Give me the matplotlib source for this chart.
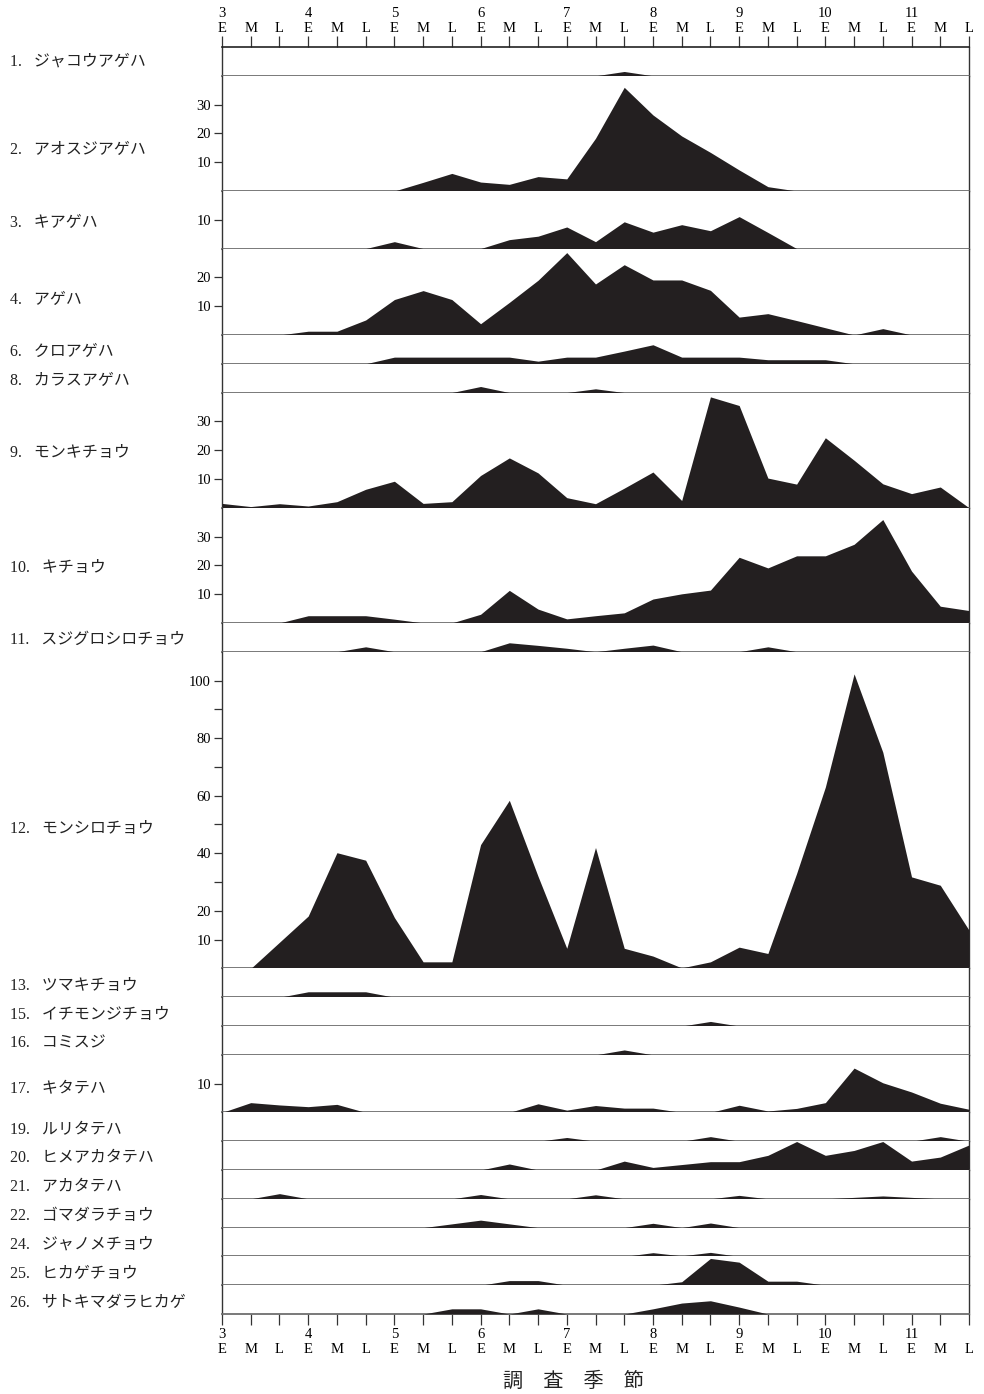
import math
import numpy as np
import matplotlib
matplotlib.use("Agg")
import matplotlib.pyplot as plt

# ===== Data (individuals per survey period) =====
months = ["3", "4", "5", "6", "7", "8", "9", "10", "11"]
periods = ["E", "M", "L"]

s01 = [0, 0, 0, 0, 0, 0, 0, 0, 0, 0, 0, 0, 0, 0, 1.5, 0, 0, 0, 0, 0, 0, 0, 0, 0, 0, 0, 0]
s02 = [0, 0, 0, 0, 0, 0, 0, 3, 6.1, 3.1, 2.3, 5.0, 4.2, 18.3, 36, 26.4, 19.1, 13.4, 7.3, 1.5, 0, 0, 0, 0, 0, 0, 0]
s03 = [0, 0, 0, 0, 0, 0, 2.4, 0, 0, 0, 3.1, 4.3, 7.5, 2.4, 9.3, 5.7, 8.3, 6.2, 11.1, 5.6, 0, 0, 0, 0, 0, 0, 0]
s04 = [0, 0, 0, 1.3, 1.3, 5.2, 12.3, 15.4, 12.3, 3.9, 11.3, 19.0, 28.6, 17.7, 24.4, 19.1, 19.1, 15.5, 6.2, 7.4, 5.0, 2.5, 0, 2.2, 0, 0, 0]
s06 = [0, 0, 0, 0, 0, 0, 2.3, 2.3, 2.3, 2.3, 2.3, 0.9, 2.3, 2.3, 4.4, 6.6, 2.3, 2.3, 2.3, 1.4, 1.4, 1.4, 0, 0, 0, 0, 0]
s08 = [0, 0, 0, 0, 0, 0, 0, 0, 0, 2.1, 0, 0, 0, 1.3, 0, 0, 0, 0, 0, 0, 0, 0, 0, 0, 0, 0, 0]
s09 = [1.5, 0.4, 1.4, 0.6, 2.1, 6.4, 9.2, 1.5, 2.1, 11.2, 17.3, 12.1, 3.5, 1.4, 6.8, 12.4, 2.5, 38.5, 35.5, 10.3, 8.2, 24.3, 16.5, 8.3, 4.9, 7.2, 0]
s10 = [0, 0, 0, 2.5, 2.5, 2.5, 1.3, 0, 0, 3.0, 11.3, 4.8, 1.4, 2.5, 3.5, 8.3, 10.1, 11.4, 22.8, 19.1, 23.3, 23.3, 27.3, 35.9, 18.0, 5.8, 4.3]
s11 = [0, 0, 0, 0, 0, 1.7, 0, 0, 0, 0, 3.1, 2.2, 1.2, 0, 1.2, 2.3, 0, 0, 0, 1.7, 0, 0, 0, 0, 0, 0, 0]
s12 = [0, 0, 9.1, 18.2, 40.2, 37.6, 17.7, 2.3, 2.3, 43.0, 58.4, 32, 7, 42, 7, 4.3, 0.2, 2.3, 7.4, 5.2, 33, 63, 102.3, 75.1, 31.8, 28.9, 13.3]
s13 = [0, 0, 0, 1.9, 1.9, 1.9, 0, 0, 0, 0, 0, 0, 0, 0, 0, 0, 0, 0, 0, 0, 0, 0, 0, 0, 0, 0, 0]
s15 = [0, 0, 0, 0, 0, 0, 0, 0, 0, 0, 0, 0, 0, 0, 0, 0, 0, 1.6, 0, 0, 0, 0, 0, 0, 0, 0, 0]
s16 = [0, 0, 0, 0, 0, 0, 0, 0, 0, 0, 0, 0, 0, 0, 1.7, 0, 0, 0, 0, 0, 0, 0, 0, 0, 0, 0, 0]
s17 = [0, 3.4, 2.6, 2.0, 2.8, 0, 0, 0, 0, 0, 0, 3.0, 0.8, 2.4, 1.5, 1.5, 0, 0, 2.5, 0.5, 1.4, 3.4, 15.4, 10.3, 7.1, 3.2, 1.1]
s19 = [0, 0, 0, 0, 0, 0, 0, 0, 0, 0, 0, 0, 1.3, 0, 0, 0, 0, 1.6, 0, 0, 0, 0, 0, 0, 0, 1.6, 0]
s20 = [0, 0, 0, 0, 0, 0, 0, 0, 0, 0, 2.1, 0, 0, 0, 3.1, 0.9, 1.9, 2.9, 2.9, 5.1, 9.9, 5.1, 6.8, 9.9, 3.1, 4.5, 8.7]
s21 = [0, 0, 1.8, 0, 0, 0, 0, 0, 0, 1.5, 0, 0, 0, 1.4, 0, 0, 0, 0, 1.2, 0, 0, 0, 0.5, 1.0, 0.5, 0, 0]
s22 = [0, 0, 0, 0, 0, 0, 0, 0, 1.3, 2.6, 1.3, 0, 0, 0, 0, 1.5, 0, 1.6, 0, 0, 0, 0, 0, 0, 0, 0, 0]
s24 = [0, 0, 0, 0, 0, 0, 0, 0, 0, 0, 0, 0, 0, 0, 0, 1.3, 0.2, 1.4, 0, 0, 0, 0, 0, 0, 0, 0, 0]
s25 = [0, 0, 0, 0, 0, 0, 0, 0, 0, 0, 1.6, 1.6, 0, 0, 0, 0, 1.2, 9.3, 8.0, 1.4, 1.4, 0, 0, 0, 0, 0, 0]
s26 = [0, 0, 0, 0, 0, 0, 0, 0, 1.8, 1.8, 0, 1.8, 0, 0, 0, 1.8, 3.8, 4.6, 2.4, 0, 0, 0, 0, 0, 0, 0, 0]

numbers = [1, 2, 3, 4, 6, 8, 9, 10, 11, 12, 13, 15, 16, 17, 19, 20, 21, 22, 24, 25, 26]
names = ["ジャコウアゲハ", "アオスジアゲハ", "キアゲハ", "アゲハ", "クロアゲハ", "カラスアゲハ",
         "モンキチョウ", "キチョウ", "スジグロシロチョウ", "モンシロチョウ", "ツマキチョウ",
         "イチモンジチョウ", "コミスジ", "キタテハ", "ルリタテハ", "ヒメアカタテハ",
         "アカタテハ", "ゴマダラチョウ", "ジャノメチョウ", "ヒカゲチョウ", "サトキマダラヒカゲ"]
series = [s01, s02, s03, s04, s06, s08, s09, s10, s11, s12, s13,
          s15, s16, s17, s19, s20, s21, s22, s24, s25, s26]

xlabels = [f"{m}\n{p}" if p == "E" else f"\n{p}" for m in months for p in periods]
x = np.arange(len(xlabels))

# ===== Layout (pixels) =====
W_PX, H_PX = 984, 1394
LEFT_PX, RIGHT_PX = 222, 969
TOP_PX, BOTTOM_PX = 47, 1314
FILL = "#231f20"
SERIF = "Liberation Serif"
LABEL_FONT = [SERIF, "Noto Sans CJK JP"]
label_shift = {1: -3, 2: 14, 12: 16, 4: 5, 17: 3}   # px nudge of the name labels

units = [max(1, math.ceil(max(s) / 10 - 1e-9)) for s in series]
unit_px = (BOTTOM_PX - TOP_PX) / sum(units)

fig = plt.figure(figsize=(W_PX / 100, H_PX / 100), dpi=100)
fig.patch.set_facecolor("white")

top = TOP_PX
n = len(series)
for k, (num, name, vals, u) in enumerate(zip(numbers, names, series, units)):
    h = u * unit_px
    base = top + h
    ax = fig.add_axes([LEFT_PX / W_PX, 1 - base / H_PX,
                       (RIGHT_PX - LEFT_PX) / W_PX, h / H_PX])
    ax.fill_between(x, 0, vals, color=FILL, lw=0, zorder=3)
    ax.set_xlim(0, len(x) - 1)
    ax.set_ylim(0, u * 10)

    for side in ["left", "right"]:
        ax.spines[side].set_color("#333333")
        ax.spines[side].set_linewidth(1.0)
    ax.spines["bottom"].set_color("#6e6e6e")
    ax.spines["bottom"].set_linewidth(1.3)
    ax.spines["top"].set_visible(k == 0)
    ax.spines["top"].set_color("#222222")
    ax.spines["top"].set_linewidth(1.2)

    # y ticks
    if u >= 2:
        if u > 5:
            major = [10, 20] + list(range(40, u * 10, 20))
            minor = list(range(30, u * 10, 20))
        else:
            major = list(range(10, u * 10, 10))
            minor = []
        ax.set_yticks(major)
        ax.set_yticks(minor, minor=True)
        ax.set_yticklabels([str(v) for v in major], family=SERIF, fontsize=10.5)
        ax.tick_params(axis="y", which="both", direction="out", length=6,
                       width=0.9, color="#333333", pad=2)
    else:
        ax.set_yticks([])

    # x ticks (top on first panel, bottom on last)
    if k == 0 or k == n - 1:
        ax.set_xticks(x)
        ax.set_xticklabels(xlabels, family=SERIF, fontsize=10.5, linespacing=1.17)
        ax.tick_params(axis="x", direction="out", length=8, width=0.9,
                       color="#333333", pad=0.5 if k == 0 else 2)
        if k == 0:
            ax.xaxis.set_ticks_position("top")
            ax.xaxis.set_label_position("top")
    else:
        ax.set_xticks([])

    # species label
    yc = top + h / 2 + 3 + label_shift.get(num, 0)
    fig.text(10 / W_PX, 1 - yc / H_PX, f"{num}.   {name}", family=LABEL_FONT,
             fontsize=11.5, ha="left", va="center", color="#222222")
    top = base

fig.text(573 / W_PX, 1 - 1381 / H_PX, "調\u3000査\u3000季\u3000節",
         family="Noto Sans CJK JP", fontsize=14.5, ha="center", va="center",
         color="#222222")

fig.savefig("out.png", dpi=100, facecolor="white")
